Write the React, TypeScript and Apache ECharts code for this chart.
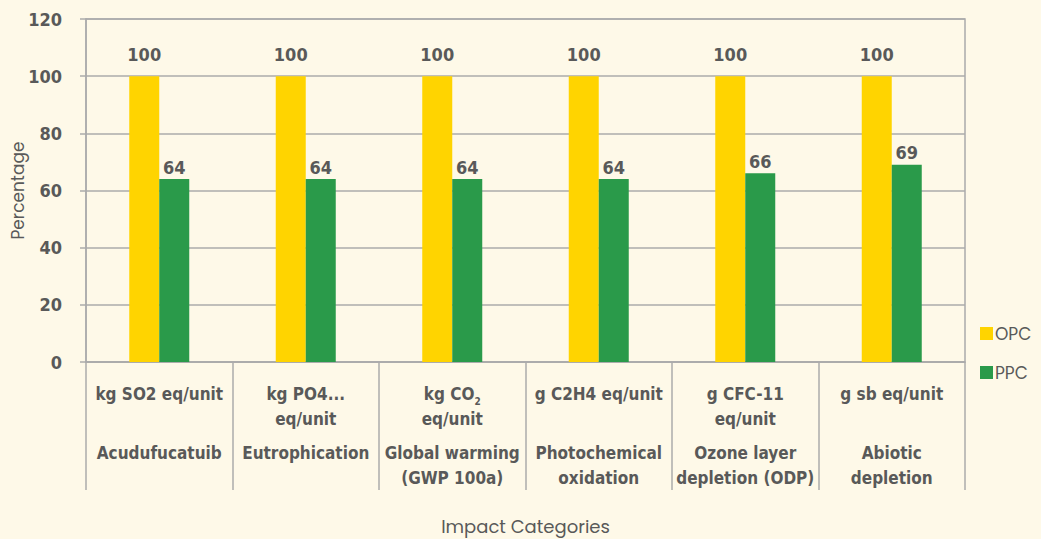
import React, { useEffect, useRef } from "react";
import * as echarts from "echarts";

const units = [
  "kg SO2 eq/unit",
  "kg PO4...\neq/unit",
  "kg CO{sub|2}\neq/unit",
  "g C2H4 eq/unit",
  "g CFC-11\neq/unit",
  "g sb eq/unit",
];
const impactNames = [
  "Acudufucatuib",
  "Eutrophication",
  "Global warming\n(GWP 100a)",
  "Photochemical\noxidation",
  "Ozone layer\ndepletion (ODP)",
  "Abiotic\ndepletion",
];
const opc = [100, 100, 100, 100, 100, 100];
const ppc = [64, 64, 64, 64, 66, 69];

const COND = "'Liberation Sans Narrow', 'DejaVu Sans Condensed', 'Roboto', sans-serif";
const ROUND = "'Poppins', 'Lato', 'Noto Sans', sans-serif";
const TXT = "#595959";
const GRID = "#ABABAB";

export default function App() {
  const ref = useRef<HTMLDivElement>(null);
  useEffect(() => {
    if (!ref.current) return;
    const chart = echarts.init(ref.current, null, { renderer: "svg" });
    const labelStyle = {
      color: TXT,
      fontFamily: COND,
      fontWeight: "bold" as const,
      fontSize: 18,
    };
    chart.setOption({
      animation: false,
      backgroundColor: "#FEF9E8",
      grid: {
        left: 86,
        right: 76,
        top: 19,
        bottom: 177,
        show: true,
        borderColor: GRID,
        borderWidth: 1.5,
        backgroundColor: "transparent",
        containLabel: false,
        outerBoundsMode: "none",
      },
      legend: {
        orient: "vertical",
        left: 975,
        top: 320,
        itemWidth: 13,
        itemHeight: 13,
        itemGap: 22,
        icon: "rect",
        textStyle: { color: TXT, fontFamily: ROUND, fontSize: 17, padding: [0, 0, 0, -3] },
        data: ["OPC", "PPC"],
      },
      xAxis: [
        {
          type: "category",
          data: units,
          name: "Impact Categories",
          nameLocation: "middle",
          nameGap: 155,
          nameMoveOverlap: false,
          nameTextStyle: { color: TXT, fontFamily: ROUND, fontSize: 18 },
          axisLine: { show: true, lineStyle: { color: GRID, width: 1.5 } },
          axisTick: {
            show: true,
            interval: 0,
            length: 128,
            lineStyle: { color: GRID, width: 1.5 },
          },
          axisLabel: {
            interval: 0,
            margin: 19,
            lineHeight: 25,
            ...labelStyle,
            fontSize: 17,
            rich: {
              sub: {
                fontSize: 10,
                fontFamily: COND,
                fontWeight: "bold",
                color: TXT,
                verticalAlign: "bottom",
                padding: [10, 0, 0, 0],
                lineHeight: 25,
              },
            },
          },
        },
        {
          type: "category",
          data: impactNames,
          position: "bottom",
          offset: 78,
          axisLine: { show: false },
          axisTick: { show: false },
          axisLabel: {
            interval: 0,
            margin: 0,
            lineHeight: 25,
            ...labelStyle,
            fontSize: 17,
          },
        },
      ],
      yAxis: {
        type: "value",
        min: 0,
        max: 120,
        interval: 20,
        name: "Percentage",
        nameLocation: "middle",
        nameGap: 60,
        nameMoveOverlap: false,
        nameTextStyle: { color: TXT, fontFamily: ROUND, fontSize: 17 },
        axisLine: { show: true, lineStyle: { color: GRID, width: 1.5 } },
        axisTick: { show: true, length: 6, lineStyle: { color: GRID, width: 1.5 } },
        splitLine: { show: true, lineStyle: { color: GRID, width: 1.5 } },
        axisLabel: { margin: 24, ...labelStyle },
      },
      series: [
        {
          name: "OPC",
          type: "bar",
          xAxisIndex: 0,
          data: opc,
          barWidth: 30,
          barGap: "0%",
          itemStyle: { color: "#FFD400" },
          label: { show: true, position: "top", distance: 13, ...labelStyle },
        },
        {
          name: "PPC",
          type: "bar",
          xAxisIndex: 0,
          data: ppc,
          barWidth: 30,
          barGap: "0%",
          itemStyle: { color: "#2A9A4A" },
          label: { show: true, position: "top", distance: 3, ...labelStyle },
        },
      ],
    });
    return () => chart.dispose();
  }, []);
  return <div ref={ref} style={{ width: 1041, height: 539, position: "absolute", left: 0, top: 0 }} />;
}
